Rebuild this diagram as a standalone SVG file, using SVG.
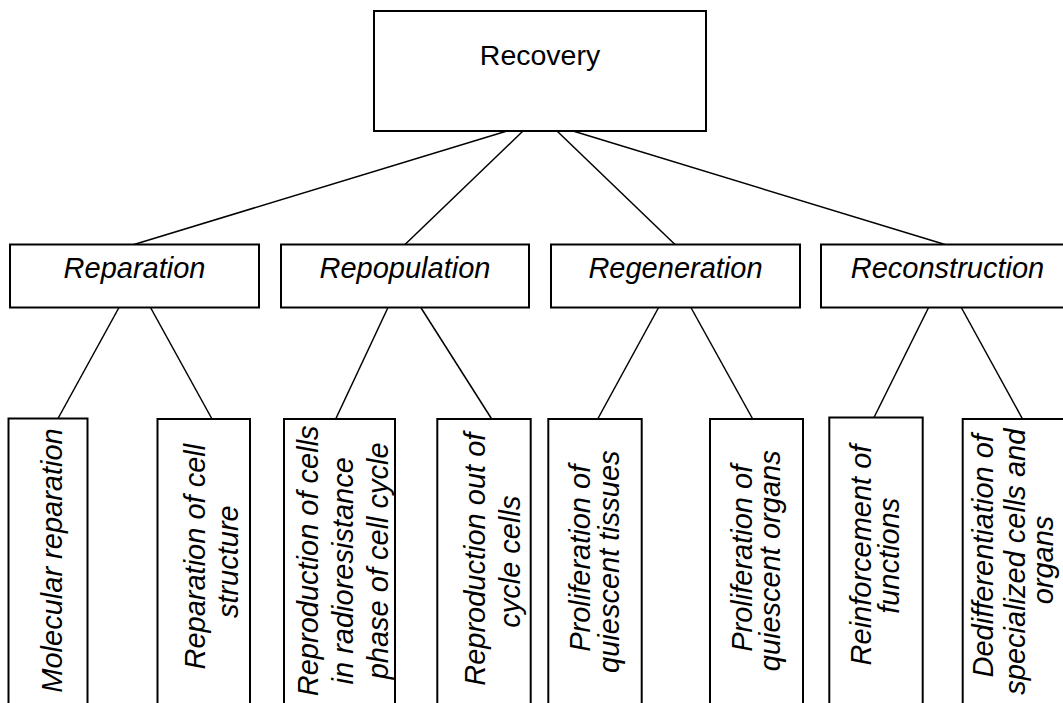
<svg xmlns="http://www.w3.org/2000/svg" width="1063" height="703" viewBox="0 0 1063 703">
  <style>
    .box { fill: #ffffff; stroke: #000000; stroke-width: 2; }
    .link { stroke: #000000; stroke-width: 1.5; fill: none; }
    .title { font-family: "Liberation Sans", Arial, sans-serif; font-size: 28.5px; fill: #000000; text-anchor: middle; }
    .cat { font-family: "Liberation Sans", Arial, sans-serif; font-size: 29px; font-style: italic; fill: #000000; text-anchor: middle; }
    .leaf { font-family: "Liberation Sans", Arial, sans-serif; font-size: 29px; font-style: italic; fill: #000000; text-anchor: middle; }
  </style>
  <rect width="1063" height="703" fill="#ffffff"/>

  <!-- connectors -->
  <g id="connectors">
    <line class="link" x1="507" y1="131" x2="134" y2="244.5"/>
    <line class="link" x1="523" y1="131" x2="405" y2="244.5"/>
    <line class="link" x1="557" y1="131" x2="675" y2="244.5"/>
    <line class="link" x1="573" y1="131" x2="945" y2="244.5"/>

    <line class="link" x1="119" y1="307.5" x2="58" y2="418.5"/>
    <line class="link" x1="150.5" y1="307.5" x2="212" y2="419"/>
    <line class="link" x1="388" y1="307.5" x2="335.7" y2="419"/>
    <line class="link" x1="420.8" y1="307.5" x2="491.7" y2="419"/>
    <line class="link" x1="658.6" y1="307.5" x2="597.7" y2="419"/>
    <line class="link" x1="690.9" y1="307.5" x2="752.7" y2="419"/>
    <line class="link" x1="928.6" y1="307.5" x2="874" y2="417.5"/>
    <line class="link" x1="961.3" y1="307.5" x2="1022.5" y2="419"/>
  </g>

  <!-- root -->
  <g id="recovery">
    <rect class="box" x="374" y="11" width="332" height="120"/>
    <text class="title" x="540" y="65">Recovery</text>
  </g>

  <!-- second level -->
  <g id="reparation">
    <rect class="box" x="10" y="244.5" width="249" height="63"/>
    <text class="cat" x="134.5" y="278">Reparation</text>
  </g>
  <g id="repopulation">
    <rect class="box" x="281" y="244.5" width="248" height="63"/>
    <text class="cat" x="405" y="278">Repopulation</text>
  </g>
  <g id="regeneration">
    <rect class="box" x="551" y="244.5" width="249" height="63"/>
    <text class="cat" x="675.5" y="278">Regeneration</text>
  </g>
  <g id="reconstruction">
    <rect class="box" x="821" y="244.5" width="255" height="63"/>
    <text class="cat" x="947.5" y="278">Reconstruction</text>
  </g>

  <!-- leaves: vertical text, tspan x = -(centre y), y = baseline x -->
  <g id="molecular-reparation">
    <rect class="box" x="8.5" y="418.5" width="79" height="300"/>
    <text class="leaf" transform="rotate(-90)"><tspan x="-560.5" y="61.7">Molecular reparation</tspan></text>
  </g>
  <g id="reparation-of-cell-structure">
    <rect class="box" x="157.5" y="419" width="92.5" height="300"/>
    <text class="leaf" transform="rotate(-90)"><tspan x="-556.7" y="205">Reparation of cell</tspan><tspan x="-561.7" y="238.3">structure</tspan></text>
  </g>
  <g id="reproduction-radioresistance">
    <rect class="box" x="284" y="419" width="111" height="300"/>
    <text class="leaf" transform="rotate(-90)"><tspan x="-560.8" y="318.3">Reproduction of cells</tspan><tspan x="-570.8" y="353.3">in radioresistance</tspan><tspan x="-560.8" y="388.3">phase of cell cycle</tspan></text>
  </g>
  <g id="reproduction-out-of-cycle">
    <rect class="box" x="437.3" y="419" width="93.4" height="300"/>
    <text class="leaf" transform="rotate(-90)"><tspan x="-559.2" y="485">Reproduction out of</tspan><tspan x="-561.7" y="520">cycle cells</tspan></text>
  </g>
  <g id="proliferation-tissues">
    <rect class="box" x="548.3" y="419" width="93.4" height="300"/>
    <text class="leaf" transform="rotate(-90)"><tspan x="-558.3" y="590">Proliferation of</tspan><tspan x="-561.7" y="619">quiescent tissues</tspan></text>
  </g>
  <g id="proliferation-organs">
    <rect class="box" x="710" y="419" width="93" height="300"/>
    <text class="leaf" transform="rotate(-90)"><tspan x="-558.3" y="751.7">Proliferation of</tspan><tspan x="-560.8" y="780">quiescent organs</tspan></text>
  </g>
  <g id="reinforcement-of-functions">
    <rect class="box" x="829.3" y="417.5" width="93.4" height="300"/>
    <text class="leaf" transform="rotate(-90)"><tspan x="-555" y="870.7">Reinforcement of</tspan><tspan x="-555.8" y="899.3">functions</tspan></text>
  </g>
  <g id="dedifferentiation">
    <rect class="box" x="962.7" y="419" width="120" height="300"/>
    <text class="leaf" transform="rotate(-90)"><tspan x="-555.8" y="993.3">Dedifferentiation of</tspan><tspan x="-561.7" y="1025">specialized cells and</tspan><tspan x="-560" y="1053.3">organs</tspan></text>
  </g>
</svg>
